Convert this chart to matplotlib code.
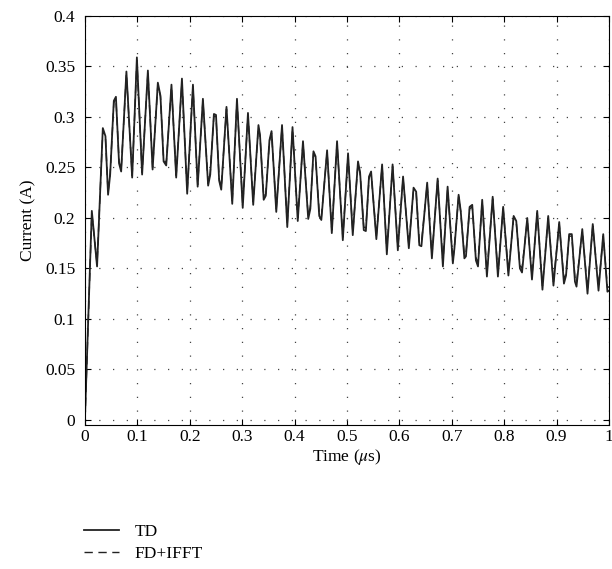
import matplotlib
matplotlib.use("Agg")
import matplotlib.pyplot as plt
import numpy as np

# vertices (time in us, current in A)
time_us = [0.000, 0.013, 0.023, 0.034, 0.039, 0.044, 0.048, 0.055, 0.059, 0.065,
           0.069, 0.079, 0.090, 0.099, 0.109, 0.120, 0.129, 0.139, 0.144, 0.150,
           0.155, 0.165, 0.174, 0.185, 0.195, 0.206, 0.215, 0.225, 0.235, 0.239,
           0.246, 0.250, 0.256, 0.260, 0.270, 0.281, 0.290, 0.301, 0.311, 0.321,
           0.331, 0.334, 0.341, 0.345, 0.352, 0.356, 0.365, 0.376, 0.386, 0.396,
           0.406, 0.416, 0.426, 0.430, 0.436, 0.440, 0.447, 0.451, 0.462, 0.471,
           0.481, 0.492, 0.502, 0.511, 0.521, 0.525, 0.532, 0.536, 0.542, 0.546,
           0.556, 0.567, 0.576, 0.587, 0.597, 0.607, 0.618, 0.627, 0.632, 0.638,
           0.642, 0.653, 0.662, 0.673, 0.683, 0.692, 0.702, 0.705, 0.713, 0.717,
           0.724, 0.727, 0.734, 0.739, 0.746, 0.750, 0.758, 0.767, 0.778, 0.788,
           0.798, 0.808, 0.818, 0.823, 0.830, 0.834, 0.844, 0.853, 0.863, 0.873,
           0.884, 0.894, 0.905, 0.914, 0.918, 0.924, 0.929, 0.935, 0.938, 0.949,
           0.959, 0.969, 0.980, 0.989, 0.997, 1.000]

current_td = [0.003, 0.207, 0.152, 0.289, 0.281, 0.223, 0.243, 0.316, 0.320, 0.254,
              0.246, 0.345, 0.240, 0.359, 0.243, 0.346, 0.248, 0.334, 0.321, 0.256,
              0.252, 0.332, 0.240, 0.338, 0.224, 0.332, 0.231, 0.318, 0.232, 0.243,
              0.303, 0.302, 0.237, 0.228, 0.310, 0.214, 0.318, 0.210, 0.304, 0.213,
              0.292, 0.282, 0.218, 0.222, 0.277, 0.286, 0.206, 0.292, 0.191, 0.290,
              0.197, 0.276, 0.199, 0.209, 0.266, 0.261, 0.202, 0.198, 0.267, 0.185,
              0.276, 0.178, 0.264, 0.183, 0.256, 0.245, 0.188, 0.187, 0.241, 0.246,
              0.179, 0.253, 0.164, 0.253, 0.168, 0.241, 0.170, 0.230, 0.226, 0.173,
              0.172, 0.235, 0.160, 0.239, 0.152, 0.231, 0.155, 0.170, 0.223, 0.207,
              0.160, 0.162, 0.211, 0.213, 0.158, 0.152, 0.218, 0.142, 0.221, 0.142,
              0.211, 0.143, 0.202, 0.197, 0.150, 0.146, 0.200, 0.139, 0.207, 0.129,
              0.202, 0.133, 0.196, 0.135, 0.143, 0.184, 0.184, 0.137, 0.132, 0.189,
              0.125, 0.194, 0.128, 0.184, 0.127, 0.128]

current_fd = [0.000, 0.205, 0.154, 0.287, 0.280, 0.225, 0.244, 0.314, 0.318, 0.256,
              0.248, 0.343, 0.242, 0.356, 0.245, 0.344, 0.250, 0.332, 0.320, 0.258,
              0.254, 0.330, 0.242, 0.335, 0.226, 0.330, 0.233, 0.316, 0.234, 0.245,
              0.301, 0.300, 0.239, 0.230, 0.308, 0.217, 0.316, 0.213, 0.302, 0.216,
              0.290, 0.281, 0.221, 0.224, 0.276, 0.284, 0.209, 0.290, 0.194, 0.288,
              0.200, 0.274, 0.202, 0.211, 0.264, 0.259, 0.205, 0.201, 0.265, 0.188,
              0.274, 0.181, 0.262, 0.186, 0.254, 0.244, 0.191, 0.190, 0.239, 0.244,
              0.182, 0.251, 0.168, 0.251, 0.171, 0.239, 0.173, 0.228, 0.225, 0.176,
              0.175, 0.233, 0.163, 0.237, 0.156, 0.229, 0.158, 0.172, 0.221, 0.206,
              0.163, 0.165, 0.209, 0.211, 0.161, 0.156, 0.216, 0.146, 0.219, 0.146,
              0.209, 0.147, 0.200, 0.196, 0.153, 0.150, 0.198, 0.143, 0.205, 0.133,
              0.200, 0.137, 0.194, 0.139, 0.146, 0.182, 0.182, 0.141, 0.136, 0.187,
              0.129, 0.192, 0.132, 0.182, 0.131, 0.132]

x_ticks = [0, 0.1, 0.2, 0.3, 0.4, 0.5, 0.6, 0.7, 0.8, 0.9, 1]
x_labels = ['0', '0.1', '0.2', '0.3', '0.4', '0.5', '0.6', '0.7', '0.8', '0.9', '1']
y_ticks = [0, 0.05, 0.1, 0.15, 0.2, 0.25, 0.3, 0.35, 0.4]
y_labels = ['0', '0.05', '0.1', '0.15', '0.2', '0.25', '0.3', '0.35', '0.4']

plt.rcParams['font.family'] = ['Liberation Serif', 'DejaVu Serif']
plt.rcParams['mathtext.fontset'] = 'stix'

fig = plt.figure(figsize=(6.12, 5.69), dpi=100)
ax = fig.add_axes([0.1389, 0.2531, 0.8562, 0.7188])

line_color = '#222222'
ax.plot(time_us, current_td, color=line_color, lw=1.3, label='TD')
ax.plot(time_us, current_fd, color=line_color, lw=1.0, ls=(0, (6, 4)),
        label='FD+IFFT')

ax.set_xlim(0, 1)
ax.set_ylim(-0.005, 0.4)
ax.set_xticks(x_ticks)
ax.set_xticklabels(x_labels)
ax.set_yticks(y_ticks)
ax.set_yticklabels(y_labels)
ax.tick_params(direction='in', top=True, right=True, labelsize=12.5,
               length=4, width=0.8)
ax.tick_params(axis='x', pad=3)
ax.tick_params(axis='y', pad=7)
# sparse dotted grid, dots about 12 px apart
ax.grid(True, ls=(0, (1, 10)), color='#444444', lw=0.9)
for sp in ax.spines.values():
    sp.set_linewidth(0.8)

ax.set_xlabel(r'Time ($\mu$s)', fontsize=12.5, labelpad=1)
ax.set_ylabel('Current (A)', fontsize=12.5, labelpad=6)

# legend sits below the plot, no frame
fig.legend(loc='upper left', bbox_to_anchor=(0.138, 0.080), frameon=False,
           fontsize=12.5, handlelength=2.0, handletextpad=0.9,
           labelspacing=0.35, borderaxespad=0, borderpad=0)

fig.savefig('out.png', dpi=100)
